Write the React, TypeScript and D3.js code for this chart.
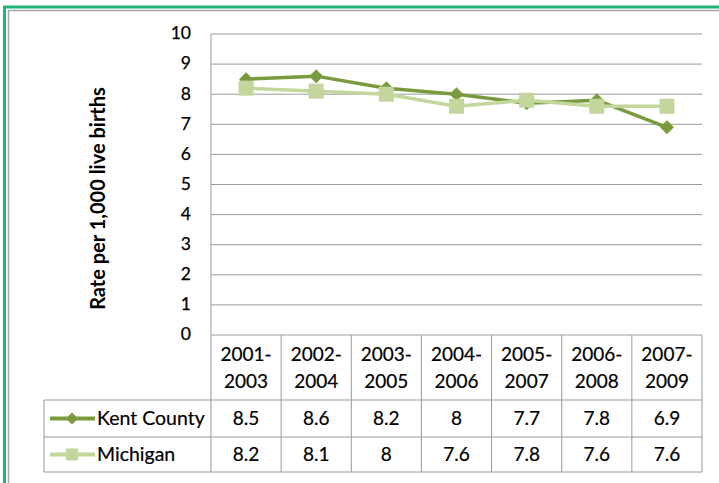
import React from "react";
import * as d3 from "d3";

const categories = ["2001-2003", "2002-2004", "2003-2005", "2004-2006", "2005-2007", "2006-2008", "2007-2009"];
const kentCounty = [8.5, 8.6, 8.2, 8, 7.7, 7.8, 6.9];
const michigan = [8.2, 8.1, 8, 7.6, 7.8, 7.6, 7.6];
const yTicks = [0, 1, 2, 3, 4, 5, 6, 7, 8, 9, 10];
const seriesNames = ["Kent County", "Michigan"];

const W = 719, H = 483;
const plotL = 211, plotR = 702, plotT = 34, plotB = 335;
const headerB = 400, row1B = 437, row2B = 472, legendL = 44;
const FONT = "Lato, 'Open Sans', sans-serif";
const KENT = "#7a9a3e";
const MICH = "#c3d69b";
const GRID = "#9a9a9a";

export default function App() {
  const x = d3.scaleBand<string>().domain(categories).range([plotL, plotR]).padding(0);
  const y = d3.scaleLinear().domain([0, 10]).range([plotB, plotT]);
  const cx = (c: string) => (x(c) ?? 0) + x.bandwidth() / 2;
  const line = d3.line<number>().x((_, i) => cx(categories[i])).y((d) => y(d));
  const diamond = (px: number, py: number, r: number) =>
    `M${px},${py - r}L${px + r},${py}L${px},${py + r}L${px - r},${py}Z`;

  const rowMid1 = (headerB + row1B) / 2;
  const rowMid2 = (row1B + row2B) / 2;

  return (
    <svg width={W} height={H} style={{ position: "absolute", left: 0, top: 0 }}>
      <rect x={0} y={0} width={W} height={H} fill="#fff" />
      {/* outer frame */}
      <line x1={4.5} y1={6} x2={4.5} y2={H} stroke="#1fb578" strokeWidth={3} />
      <line x1={3} y1={7} x2={W} y2={7} stroke="#1fb578" strokeWidth={3} />
      <line x1={8.5} y1={10} x2={8.5} y2={H} stroke="#a6a6a6" strokeWidth={1.5} />
      <line x1={8} y1={10.5} x2={W} y2={10.5} stroke="#a6a6a6" strokeWidth={1.5} />

      {/* gridlines */}
      {yTicks.map((t) => (
        <line key={t} x1={plotL} x2={plotR} y1={y(t)} y2={y(t)} stroke={GRID} strokeWidth={1} />
      ))}
      <line x1={plotL} x2={plotL} y1={plotT} y2={row2B} stroke={GRID} strokeWidth={1} />
      {yTicks.map((t) => (
        <text key={"t" + t} x={plotL - 20} y={y(t)} dy="0.05em" textAnchor="end" fontFamily={FONT} fontSize={17.5} fill="#000" stroke="#000" strokeWidth={0.25} dominantBaseline="middle">{t}</text>
      ))}
      <text transform={`translate(${100},${(plotT + plotB) / 2 + 14}) rotate(-90)`} textAnchor="middle" fontFamily={FONT} fontWeight="bold" fontSize={20} fill="#000" dominantBaseline="middle">Rate per 1,000 live births</text>

      {/* table */}
      {categories.map((c, i) => (
        <line key={"v" + i} x1={(x(c) ?? 0) + x.bandwidth()} x2={(x(c) ?? 0) + x.bandwidth()} y1={plotB} y2={row2B} stroke={GRID} />
      ))}
      <line x1={legendL} x2={plotR} y1={headerB} y2={headerB} stroke={GRID} />
      <line x1={legendL} x2={plotR} y1={row1B} y2={row1B} stroke={GRID} />
      <line x1={legendL} x2={plotR} y1={row2B} y2={row2B} stroke={GRID} />
      <line x1={legendL} x2={legendL} y1={headerB} y2={row2B} stroke={GRID} />
      {categories.map((c) => {
        const [a, b] = c.split("-");
        return (
          <text key={"c" + c} x={cx(c)} textAnchor="middle" fontFamily={FONT} fontSize={19} fill="#000" stroke="#000" strokeWidth={0.2}>
            <tspan x={cx(c)} y={361}>{a}-</tspan>
            <tspan x={cx(c)} y={388}>{b}</tspan>
          </text>
        );
      })}
      {kentCounty.map((v, i) => (
        <text key={"k" + i} x={cx(categories[i])} y={rowMid1} dy="0.35em" textAnchor="middle" fontFamily={FONT} fontSize={19} fill="#000" stroke="#000" strokeWidth={0.2}>{v}</text>
      ))}
      {michigan.map((v, i) => (
        <text key={"m" + i} x={cx(categories[i])} y={rowMid2} dy="0.35em" textAnchor="middle" fontFamily={FONT} fontSize={19} fill="#000" stroke="#000" strokeWidth={0.2}>{v}</text>
      ))}
      {/* legend keys */}
      <line x1={50} x2={95} y1={rowMid1} y2={rowMid1} stroke={KENT} strokeWidth={4} />
      <path d={diamond(72, rowMid1, 6)} fill={KENT} />
      <text x={97} y={rowMid1} dy="0.35em" fontFamily={FONT} fontSize={19.5} fill="#000" stroke="#000" strokeWidth={0.2}>{seriesNames[0]}</text>
      <line x1={50} x2={95} y1={rowMid2} y2={rowMid2} stroke={MICH} strokeWidth={4} />
      <rect x={66} y={rowMid2 - 6} width={12} height={12} fill={MICH} />
      <text x={97} y={rowMid2} dy="0.35em" fontFamily={FONT} fontSize={19.5} fill="#000" stroke="#000" strokeWidth={0.2}>{seriesNames[1]}</text>

      {/* series */}
      <path d={line(kentCounty) ?? ""} fill="none" stroke={KENT} strokeWidth={3.5} strokeLinejoin="round" />
      {kentCounty.map((v, i) => (
        <path key={"kd" + i} d={diamond(cx(categories[i]), y(v), 7)} fill={KENT} />
      ))}
      <path d={line(michigan) ?? ""} fill="none" stroke={MICH} strokeWidth={3.5} strokeLinejoin="round" />
      {michigan.map((v, i) => (
        <rect key={"ms" + i} x={cx(categories[i]) - 7.5} y={y(v) - 7.5} width={15} height={15} fill={MICH} />
      ))}
    </svg>
  );
}
